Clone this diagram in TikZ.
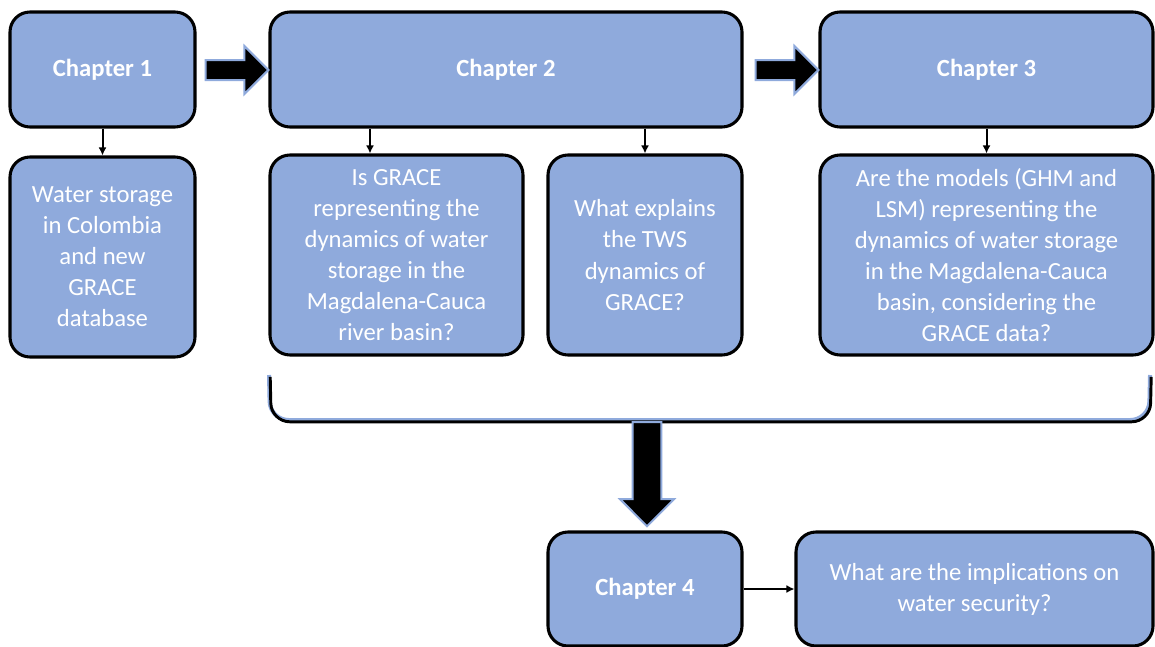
\documentclass[tikz,border=0pt]{standalone}
\usepackage{fontspec}
\setmainfont{Carlito}
\usetikzlibrary{arrows.meta,shapes.arrows}
\definecolor{boxblue}{HTML}{8FAADC}
\tikzstyle{box}=[rectangle,rounded corners=15pt,draw=black,line width=2.3pt,fill=boxblue,text=white,align=center,inner sep=0pt]
\tikzstyle{chap}=[box,font=\fontsize{18.5}{23}\selectfont\bfseries,minimum height=86.25pt]
\tikzstyle{ques}=[box,font=\fontsize{18.5}{23.3}\selectfont,minimum height=150pt]
\tikzstyle{thin}=[line width=1.5pt,-{Latex[length=6pt,width=6pt]}]
\tikzstyle{fat}=[single arrow,fill=black,draw=boxblue,line width=1.5pt,text height=0pt,text depth=0pt,inner xsep=0pt,single arrow tip angle=90]

\begin{document}
\begin{tikzpicture}[x=0.75pt,y=-0.75pt]
\useasboundingbox (0,0) rectangle (1155,646);
\node[chap,minimum width=138.75pt] (ch1) at (102.5,69.5) {Chapter 1};
\node[chap,minimum width=354pt] (ch2) at (506,69.5) {Chapter 2};
\node[chap,minimum width=249.75pt] (ch3) at (986.5,69.5) {Chapter 3};
\node[ques,minimum width=138.75pt] (q1) at (102.5,257) {Water storage\\in Colombia\\and new\\GRACE\\database};
\node[ques,minimum width=189.75pt] (q2a) at (396.5,255) {Is GRACE\\representing the\\dynamics of water\\storage in the\\Magdalena-Cauca\\river basin?};
\node[ques,minimum width=145.5pt] (q2b) at (645,255) {What explains\\the TWS\\dynamics of\\GRACE?};
\node[ques,minimum width=249.75pt] (q3) at (986.5,255) {Are the models (GHM and\\LSM) representing the\\dynamics of water storage\\in the Magdalena-Cauca\\basin, considering the\\GRACE data?};
\node[chap,minimum width=145.5pt,minimum height=85.5pt] (ch4) at (645,589) {Chapter 4};
\node[ques,minimum width=267.75pt,minimum height=85.5pt] (q4) at (974.5,589) {What are the implications on\\water security?};
% block arrows
\node[fat,minimum height=47pt,inner ysep=6.75pt,single arrow head extend=10.5pt] (f12) at (232,70) {};
\node[fat,minimum height=47pt,inner ysep=6.75pt,single arrow head extend=10.5pt] (f23) at (782,70) {};
% thin arrows
\coordinate (a2) at (370,0);
\draw[thin] (ch1) -- (q1);
\draw[thin] (ch2.south -| a2) -- (q2a.north -| a2);
\draw[thin] (ch2.south -| q2b) -- (q2b);
\draw[thin] (ch3.south -| q3) -- (q3);
\draw[thin] (ch4) -- (q4);
% brace
\draw[boxblue,line width=3pt,rounded corners=14pt] (269,375) -- (270,420) -- (1149,420) -- (1150,375);
\draw[black,line width=2.2pt,rounded corners=14pt,shift={(1.2,1.8)}] (269,375) -- (270,420) -- (1149,420) -- (1150,375);
\node[fat,rotate=-90,minimum height=78pt,inner ysep=10pt,single arrow head extend=9.5pt] (down) at (647,467) {};
\end{tikzpicture}
\end{document}
